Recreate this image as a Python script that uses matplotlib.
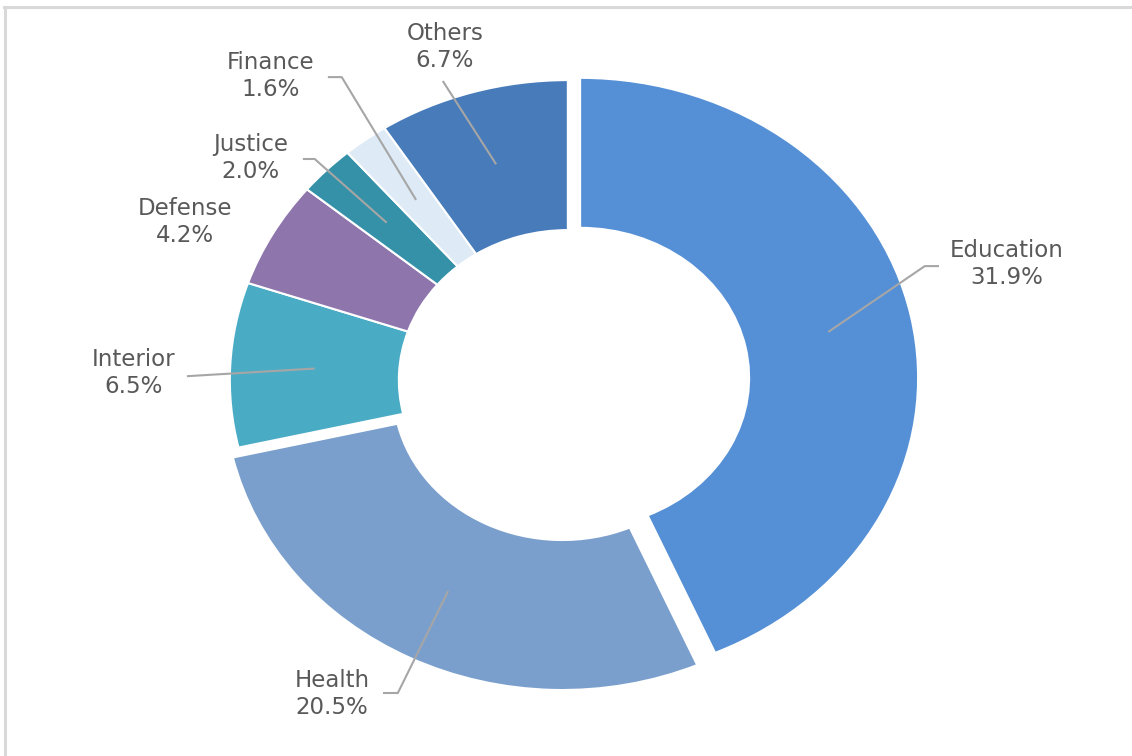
import matplotlib
matplotlib.use("Agg")
import matplotlib.pyplot as plt
import numpy as np
from matplotlib.lines import Line2D

# data
categories = ["Education", "Health", "Interior", "Defense", "Justice", "Finance", "Others"]
shares = [31.9, 20.5, 6.5, 4.2, 2.0, 1.6, 6.7]
colors = ["#5590D6", "#7A9FCC", "#4AABC5", "#8E76AD", "#3491A8", "#DEEAF6", "#477BBA"]
explode = [0.037, 0.037, 0, 0, 0, 0, 0]

# label text centres and leader line bends (layout, data units)
text_pos = [(1.299, 0.387), (-0.698, -1.047), (-1.284, 0.023), (-1.133, 0.527),
            (-0.938, 0.74), (-0.879, 1.013), (-0.364, 1.11)]
leader_pts = [
    [(1.056, 0.38), (1.098, 0.38)],
    [(-0.503, -1.043), (-0.547, -1.043)],
    [(-1.127, 0.013)],
    [],
    [(-0.749, 0.737), (-0.784, 0.737)],
    [(-0.669, 1.01), (-0.710, 1.01)],
    [(-0.370, 0.997)],
]

fig = plt.figure(figsize=(11.32, 7.56), dpi=100)
ax = fig.add_axes([0, 0, 1, 1])

wedges, _ = ax.pie(shares, colors=colors, explode=explode, startangle=90,
                   counterclock=False, radius=1.0,
                   wedgeprops=dict(width=0.5, edgecolor="white", linewidth=1.5))
ax.set_aspect("auto")
ax.set_xlim(-1.680, 1.669)
ax.set_ylim(-1.253, 1.267)
ax.axis("off")

for i, w in enumerate(wedges):
    ang = np.deg2rad((w.theta1 + w.theta2) / 2)
    cx, cy = w.center
    ax_pt = (cx + 0.75 * np.cos(ang), cy + 0.75 * np.sin(ang))
    pts = [ax_pt] + leader_pts[i]
    if len(pts) > 1:
        xs, ys = zip(*pts)
        ax.plot(xs, ys, color="#A6A6A6", lw=1.5, solid_capstyle="butt")
    ax.text(text_pos[i][0], text_pos[i][1], f"{categories[i]}\n{shares[i]:.1f}%",
            ha="center", va="center", fontsize=16.5, color="#595959",
            linespacing=1.2)

# light frame at left and top edges
fig.add_artist(Line2D([4.5 / 1132, 4.5 / 1132], [0, 1 - 6.5 / 756],
                      transform=fig.transFigure, color="#D9D9D9", lw=2.2))
fig.add_artist(Line2D([3.5 / 1132, 1], [1 - 6.5 / 756, 1 - 6.5 / 756],
                      transform=fig.transFigure, color="#D9D9D9", lw=2.2))

fig.savefig("out.png", dpi=100, facecolor="white")
